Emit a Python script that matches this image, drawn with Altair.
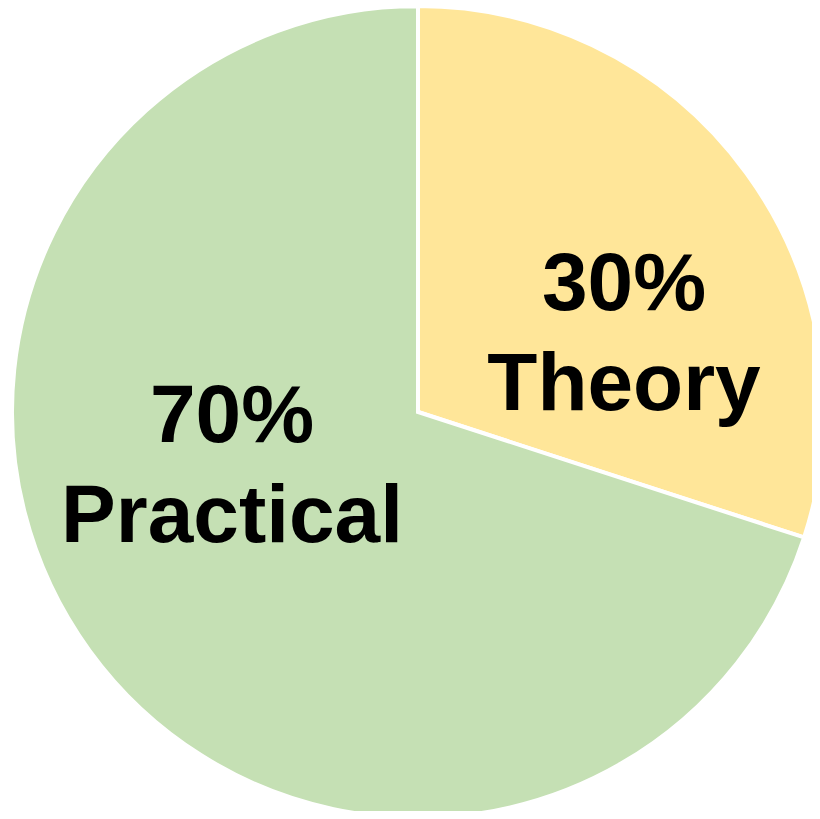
import altair as alt
import pandas as pd

categories = ["Theory", "Practical"]
values = [30, 70]
percent_labels = ["30%", "70%"]
order = [1, 2]
colors = ["#FFE699", "#C5E0B4"]

df = pd.DataFrame({
    "category": categories,
    "value": values,
    "pct": percent_labels,
    "order": order,
})
df["label"] = df["pct"] + "\n" + df["category"]

CX, CY = 410, 404

pie = alt.Chart(df).mark_arc(outerRadius=406, stroke="white", strokeWidth=4).encode(
    theta=alt.Theta("value:Q", stack=True, scale=alt.Scale(domain=[0, 100])),
    order=alt.Order("order:Q"),
    x=alt.value(CX),
    y=alt.value(CY),
    color=alt.Color("category:N", scale=alt.Scale(domain=categories, range=colors), legend=None),
)

text_common = dict(radius=220, font="Liberation Sans", fontWeight="bold", fontSize=82,
                   color="black", lineBreak="\n", lineHeight=100, align="center", baseline="middle")

txt_base = alt.Chart(df).transform_window(
    cum="sum(value)", sort=[alt.SortField("order")]
).transform_calculate(
    mid="datum.cum - datum.value / 2"
).encode(
    theta=alt.Theta("mid:Q", stack=None, scale=alt.Scale(domain=[0, 100])),
    x=alt.value(CX),
    y=alt.value(CY),
    text="label:N",
)

theory_txt = txt_base.mark_text(dx=28, dy=2, **text_common).transform_filter(
    alt.datum.category == "Theory")
practical_txt = txt_base.mark_text(dx=-8, dy=-124, **text_common).transform_filter(
    alt.datum.category == "Practical")

chart = alt.layer(pie, theory_txt, practical_txt).properties(
    width=804, height=803, padding=0, autosize=alt.AutoSizeParams(type="none")
).configure(background="white").configure_view(strokeWidth=0)

chart.save("out.html", embed_options={"renderer": "svg", "actions": False})
